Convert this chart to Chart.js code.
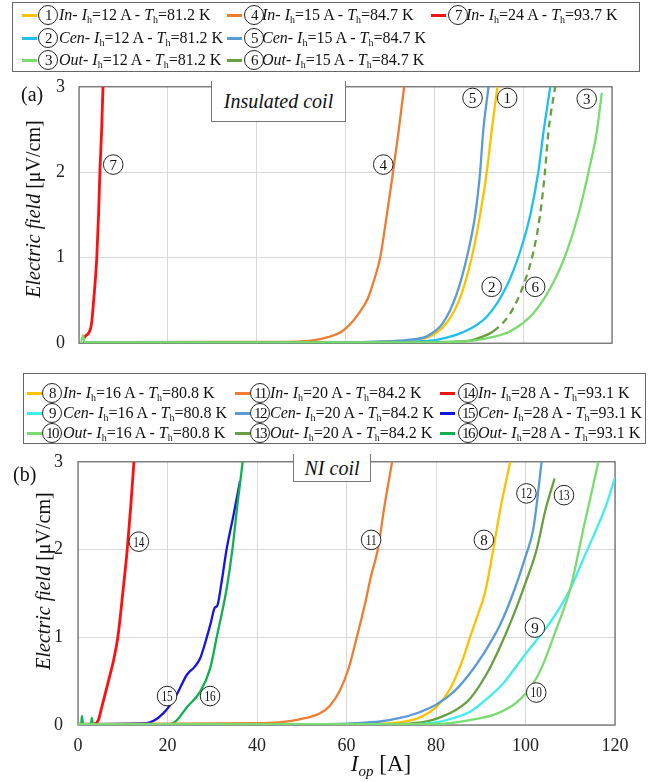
<!DOCTYPE html>
<html>
<head>
<meta charset="utf-8">
<script src="https://cdn.jsdelivr.net/npm/chart.js@4/dist/chart.umd.min.js"></script>
<style>
  body { margin: 0; width: 666px; height: 782px; position: relative; background: #fff; overflow: hidden;
         font-family: "Liberation Serif", "Times New Roman", serif; color: #111; }
  canvas { position: absolute; left: 0; z-index: 2; }
  .box { position: absolute; border: 1px solid #666; background: #fff; box-sizing: border-box; z-index: 1; }
  .item { position: absolute; white-space: nowrap; font-size: 16px; height: 20px; line-height: 20px; z-index: 3; }
  .sw { position: absolute; top: 9px; width: 15px; height: 3px; }
  .cn { position: absolute; top: 0; width: 18px; height: 18px; border: 1px solid #222; border-radius: 50%;
        text-align: center; line-height: 19px; font-size: 15px; letter-spacing: -1.5px; }
  .tx { position: absolute; top: 0; }
  sub { font-size: 10px; vertical-align: -3px; line-height: 0; }
  .tag { position: absolute; background: #fff; border: 1px solid #777; border-top: none; box-sizing: border-box;
         font-style: italic; font-size: 20px; text-align: center; z-index: 3; }
  .lbl { position: absolute; font-size: 20px; z-index: 3; }
  .ytitle { position: absolute; width: 220px; height: 26px; line-height: 26px; text-align: center;
            font-size: 20px; transform: rotate(-90deg); z-index: 3; }
</style>
</head>
<body>
<div class="box" style="left:12px;top:2px;width:628px;height:70px"></div>
<div class="box" style="left:23px;top:373px;width:623px;height:71px"></div>
<div id="legA"></div>
<div id="legB"></div>

<canvas id="chartA" width="666" height="306" style="top:62px"></canvas>
<canvas id="chartB" width="666" height="346" style="top:436px"></canvas>

<div class="lbl" style="left:21px;top:83px">(a)</div>
<div class="lbl" style="left:13px;top:463px">(b)</div>
<div class="tag" style="left:211px;top:81px;width:135px;height:41px;line-height:40px">Insulated coil</div>
<div class="tag" style="left:293px;top:454px;width:78px;height:28px;line-height:28px">NI coil</div>
<div class="ytitle" style="left:-77px;top:196px"><i>Electric field</i> [μV/cm]</div>
<div class="ytitle" style="left:-67px;top:568px"><i>Electric field</i> [μV/cm]</div>
<div style="position:absolute;left:341px;top:751px;width:80px;text-align:center;font-size:23px;z-index:3"><i>I</i><sub style="font-size:15px;vertical-align:-5px"><i>op</i></sub> [A]</div>

<script>
// ---- data: [I_op (A), E (µV/cm)] ----
// (a) insulated coil
const curve1 = [[1,0.01],[62,0.01],[70,0.02],[75,0.04],[79,0.08],[82.8,0.24],[85.8,0.53],[88.4,1.0],[90.3,1.5],[91.8,2.0],[92.9,2.48],[94.2,3.0]];
const curve2 = [[1,0.01],[70,0.01],[76,0.02],[80.5,0.04],[86.5,0.13],[91.8,0.31],[96.3,0.67],[99.3,1.07],[101.6,1.5],[103.4,2.0],[104.6,2.48],[106.1,3.0]];
const curve3 = [[0.5,0.01],[0.9,0.09],[1.3,0.01],[80,0.01],[88.8,0.03],[93,0.07],[97.1,0.14],[102.3,0.35],[106.8,0.71],[109.8,1.07],[112.4,1.5],[114.7,2.0],[116.6,2.48],[117.7,2.93]];
const curve4 = [[1,0.01],[30,0.015],[45,0.015],[50,0.02],[53,0.035],[56,0.07],[59,0.13],[61,0.22],[63,0.35],[65,0.52],[66.5,0.75],[67.8,1.0],[69.3,1.5],[70.7,2.0],[72,2.5],[73.2,3.0]];
const curve5 = [[1,0.01],[60,0.01],[68,0.02],[74,0.04],[78.3,0.08],[82,0.24],[85,0.57],[87.3,1.0],[89.2,1.5],[90.3,2.0],[91,2.48],[92.2,3.0]];
const curve6 = [[1,0.01],[75,0.01],[82,0.015],[88,0.03],[91,0.08],[93.3,0.14],[97.1,0.35],[100,0.67],[102.3,1.07],[103.8,1.5],[104.9,2.0],[105.7,2.48],[107.2,3.0]];
const curve7 = [[1.2,0.06],[1.4,0.08],[2.2,0.12],[2.8,0.22],[3.3,0.5],[4.0,1.0],[4.4,1.5],[4.7,2.0],[5.1,2.5],[5.4,3.0]];
// (b) NI coil
const curve8 = [[0,0.01],[60,0.01],[70,0.02],[74,0.05],[77,0.1],[80,0.2],[82,0.32],[84,0.5],[86,0.75],[87.6,1.0],[89.1,1.22],[91,1.52],[92.8,2.0],[94.3,2.44],[96.6,3.0]];
const curve9 = [[0,0.01],[75,0.01],[80,0.03],[84,0.08],[87.6,0.15],[91.4,0.3],[95.1,0.48],[100,0.81],[103,1.0],[106.2,1.22],[110,1.55],[113,1.9],[116,2.25],[118,2.5],[120,2.82]];
const curve10 = [[0,0.01],[78,0.01],[83,0.02],[87.6,0.055],[93.6,0.13],[98.1,0.26],[101.8,0.48],[104,0.7],[107,1.11],[110,1.55],[113,2.25],[116.3,3.0]];
const curve11 = [[0,0.01],[40,0.02],[45,0.03],[48,0.05],[51,0.08],[54,0.13],[56.3,0.22],[58.5,0.39],[60.5,0.65],[62.3,1.0],[64,1.35],[65.5,1.7],[67,2.0],[68.5,2.5],[70.2,3.0]];
const curve12 = [[0,0.01],[55,0.01],[62,0.02],[67.5,0.04],[72,0.08],[76,0.14],[80,0.23],[84,0.38],[87.6,0.59],[90.6,0.81],[94.3,1.14],[97.3,1.51],[100,1.92],[101.8,2.25],[103.6,3.0]];
const curve13 = [[0,0.01],[70,0.01],[75,0.02],[78.7,0.05],[82,0.11],[85,0.19],[87.6,0.3],[91.4,0.59],[94.3,0.89],[97.3,1.25],[100,1.62],[102.5,2.0],[104.4,2.44],[106.5,2.81]];
const curve14 = [[0,0.01],[3.5,0.01],[4.5,0.05],[5.3,0.2],[6.8,0.5],[8,0.75],[8.9,1.0],[10,1.5],[11,2.0],[11.8,2.5],[12.5,3.0]];
const curve15 = [[0,0.01],[15.3,0.02],[17,0.05],[19,0.13],[20.5,0.22],[22.1,0.35],[24.3,0.57],[26,0.66],[27.3,0.76],[28.5,0.95],[29.7,1.17],[30.5,1.33],[31.2,1.37],[32,1.6],[33.2,2.0],[34.7,2.38],[36.2,2.78]];
const curve16 = [[0,0.01],[0.7,0.01],[0.9,0.1],[1.1,0.01],[2.9,0.01],[3.1,0.08],[3.3,0.01],[20.5,0.01],[22,0.05],[24.3,0.2],[27.3,0.38],[29.5,0.64],[31,1.0],[33.2,1.55],[34.5,2.0],[35.6,2.5],[36.8,3.0]];

// legend text values
const numA = [1, 2, 3, 4, 5, 6, 7];
const posA = ['In', 'Cen', 'Out', 'In', 'Cen', 'Out', 'In'];
const heaterA = [12, 12, 12, 15, 15, 15, 24];
const tempA = ['81.2', '81.2', '81.2', '84.7', '84.7', '84.7', '93.7'];
const numB = [8, 9, 10, 11, 12, 13, 14, 15, 16];
const posB = ['In', 'Cen', 'Out', 'In', 'Cen', 'Out', 'In', 'Cen', 'Out'];
const heaterB = [16, 16, 16, 20, 20, 20, 28, 28, 28];
const tempB = ['80.8', '80.8', '80.8', '84.2', '84.2', '84.2', '93.1', '93.1', '93.1'];

// circled labels on the curves: [number, I_op, E]
const tagsA = [[7,7.7,2.09],[4,68.5,2.09],[5,88.6,2.87],[1,96.4,2.87],[3,114.3,2.86],[2,92.9,0.66],[6,102.7,0.66]];
const tagsB = [[14,13.6,2.09],[15,19.9,0.33],[16,29.5,0.33],[11,65.5,2.11],[8,90.7,2.11],[12,100.2,2.64],[13,108.6,2.62],[9,102.1,1.11],[10,102.4,0.37]];

const SERIF = '"Liberation Serif", "Times New Roman", serif';
const colorsA = ['#FFC000', '#1EC0F0', '#79DC6F', '#EE7D31', '#5B9BD5', '#68A040', '#FF1010'];
const colorsB = ['#FFC000', '#40EEF0', '#79DC6F', '#EE7D31', '#5B9BD5', '#68A040', '#FF1010', '#1515E0', '#10B050'];

const pts = a => a.map(([x, y]) => ({ x, y }));

function line(data, color, dashed) {
    const ds = {
        data: pts(data),
        borderColor: color,
        borderWidth: color === '#FF1010' ? 2.8 : 2.3,
        pointRadius: 0,
        fill: false,
        cubicInterpolationMode: 'monotone'
    };
    if (dashed) {
        ds.segment = { borderDash: c => c.p0.parsed.y > 0.09 ? [7, 5] : undefined };
    }
    return ds;
}

// box around the plot area
const frame = {
    id: 'frame',
    beforeDatasetsDraw(chart) {
        const a = chart.chartArea, ctx = chart.ctx;
        ctx.save();
        ctx.strokeStyle = '#666';
        ctx.lineWidth = 1.2;
        ctx.strokeRect(a.left, a.top, a.right - a.left, a.bottom - a.top);
        ctx.restore();
    }
};

// circled curve numbers, placed in data units
const tagPlugin = {
    id: 'tags',
    afterDatasetsDraw(chart, args, opts) {
        const ctx = chart.ctx, xs = chart.scales.x, ys = chart.scales.y;
        ctx.save();
        opts.items.forEach(([n, x, y]) => {
            const px = xs.getPixelForValue(x), py = ys.getPixelForValue(y);
            ctx.beginPath();
            ctx.arc(px, py, 9.8, 0, 2 * Math.PI);
            ctx.fillStyle = '#fff';
            ctx.fill();
            ctx.lineWidth = 1;
            ctx.strokeStyle = '#222';
            ctx.stroke();
            ctx.fillStyle = '#111';
            ctx.font = '15px ' + SERIF;
            ctx.textAlign = 'center';
            ctx.textBaseline = 'middle';
            ctx.save();
            ctx.translate(px, py + 1);
            if (String(n).length > 1) ctx.scale(0.75, 1);
            ctx.fillText(String(n), 0, 0);
            ctx.restore();
        });
        ctx.restore();
    }
};

function makeChart(id, sets, tags, showX, pad, yW, xH, yPad) {
    return new Chart(document.getElementById(id), {
        type: 'line',
        data: { datasets: sets },
        options: {
            responsive: false,
            animation: false,
            devicePixelRatio: 1,
            layout: { padding: pad },
            plugins: { legend: { display: false }, tooltip: { enabled: false }, tags: { items: tags } },
            scales: {
                x: {
                    type: 'linear', min: 0, max: 120,
                    grid: { color: '#d9d9d9', drawTicks: false },
                    border: { display: false },
                    ticks: { display: showX, stepSize: 20, padding: 10, color: '#222', font: { family: SERIF, size: 18 } },
                    afterFit: s => { s.height = xH; }
                },
                y: {
                    min: 0, max: 3,
                    grid: { color: '#d9d9d9', drawTicks: false },
                    border: { display: false },
                    ticks: { stepSize: 1, padding: yPad, color: '#222', font: { family: SERIF, size: 18 } },
                    afterFit: s => { s.width = yW; }
                }
            }
        },
        plugins: [frame, tagPlugin]
    });
}

const curvesA = [curve1, curve2, curve3, curve4, curve5, curve6, curve7];
const curvesB = [curve8, curve9, curve10, curve11, curve12, curve13, curve14, curve15, curve16];

// draw order roughly like the original (greens under, yellow/red on top)
const setsA = [2, 5, 1, 4, 0, 3, 6].map(i => line(curvesA[i], colorsA[i], i === 5));
const setsB = [2, 1, 5, 4, 0, 3, 8, 7, 6].map(i => line(curvesB[i], colorsB[i], false));

makeChart('chartA', setsA, tagsA, false, { top: 19, right: 54, bottom: 9, left: 0 }, 79, 0, 14);
makeChart('chartB', setsB, tagsB, true, { top: 18, right: 51, bottom: 0, left: 0 }, 78, 57, 15);

// legends (html, with real italic / subscript text)
function legend(el, nums, pos, heat, temp, colors, cols, rows, offs) {
    let html = '';
    nums.forEach((n, i) => {
        const c = Math.floor(i / 3), r = i % 3;
        const left = cols[c], top = rows[r] - 10;
        html += '<div class="item" style="left:' + left + 'px;top:' + top + 'px">' +
            '<span class="sw" style="left:0;background:' + colors[i] + '"></span>' +
            '<span class="cn" style="left:' + offs[c][0] + 'px">' + n + '</span>' +
            '<span class="tx" style="left:' + offs[c][1] + 'px"><i>' + pos[i] + '</i>- <i>I</i><sub>h</sub>=' +
            heat[i] + ' A - <i>T</i><sub>h</sub>=' + temp[i] + ' K</span></div>';
    });
    document.getElementById(el).innerHTML = html;
}
legend('legA', numA, posA, heaterA, tempA, colorsA, [22, 227, 431], [15, 37.5, 60], [[16, 37], [17, 35], [17, 35]]);
legend('legB', numB, posB, heaterB, tempB, colorsB, [27, 235, 440], [393, 413, 433], [[15, 36], [15, 35], [18, 38]]);
</script>
</body>
</html>
